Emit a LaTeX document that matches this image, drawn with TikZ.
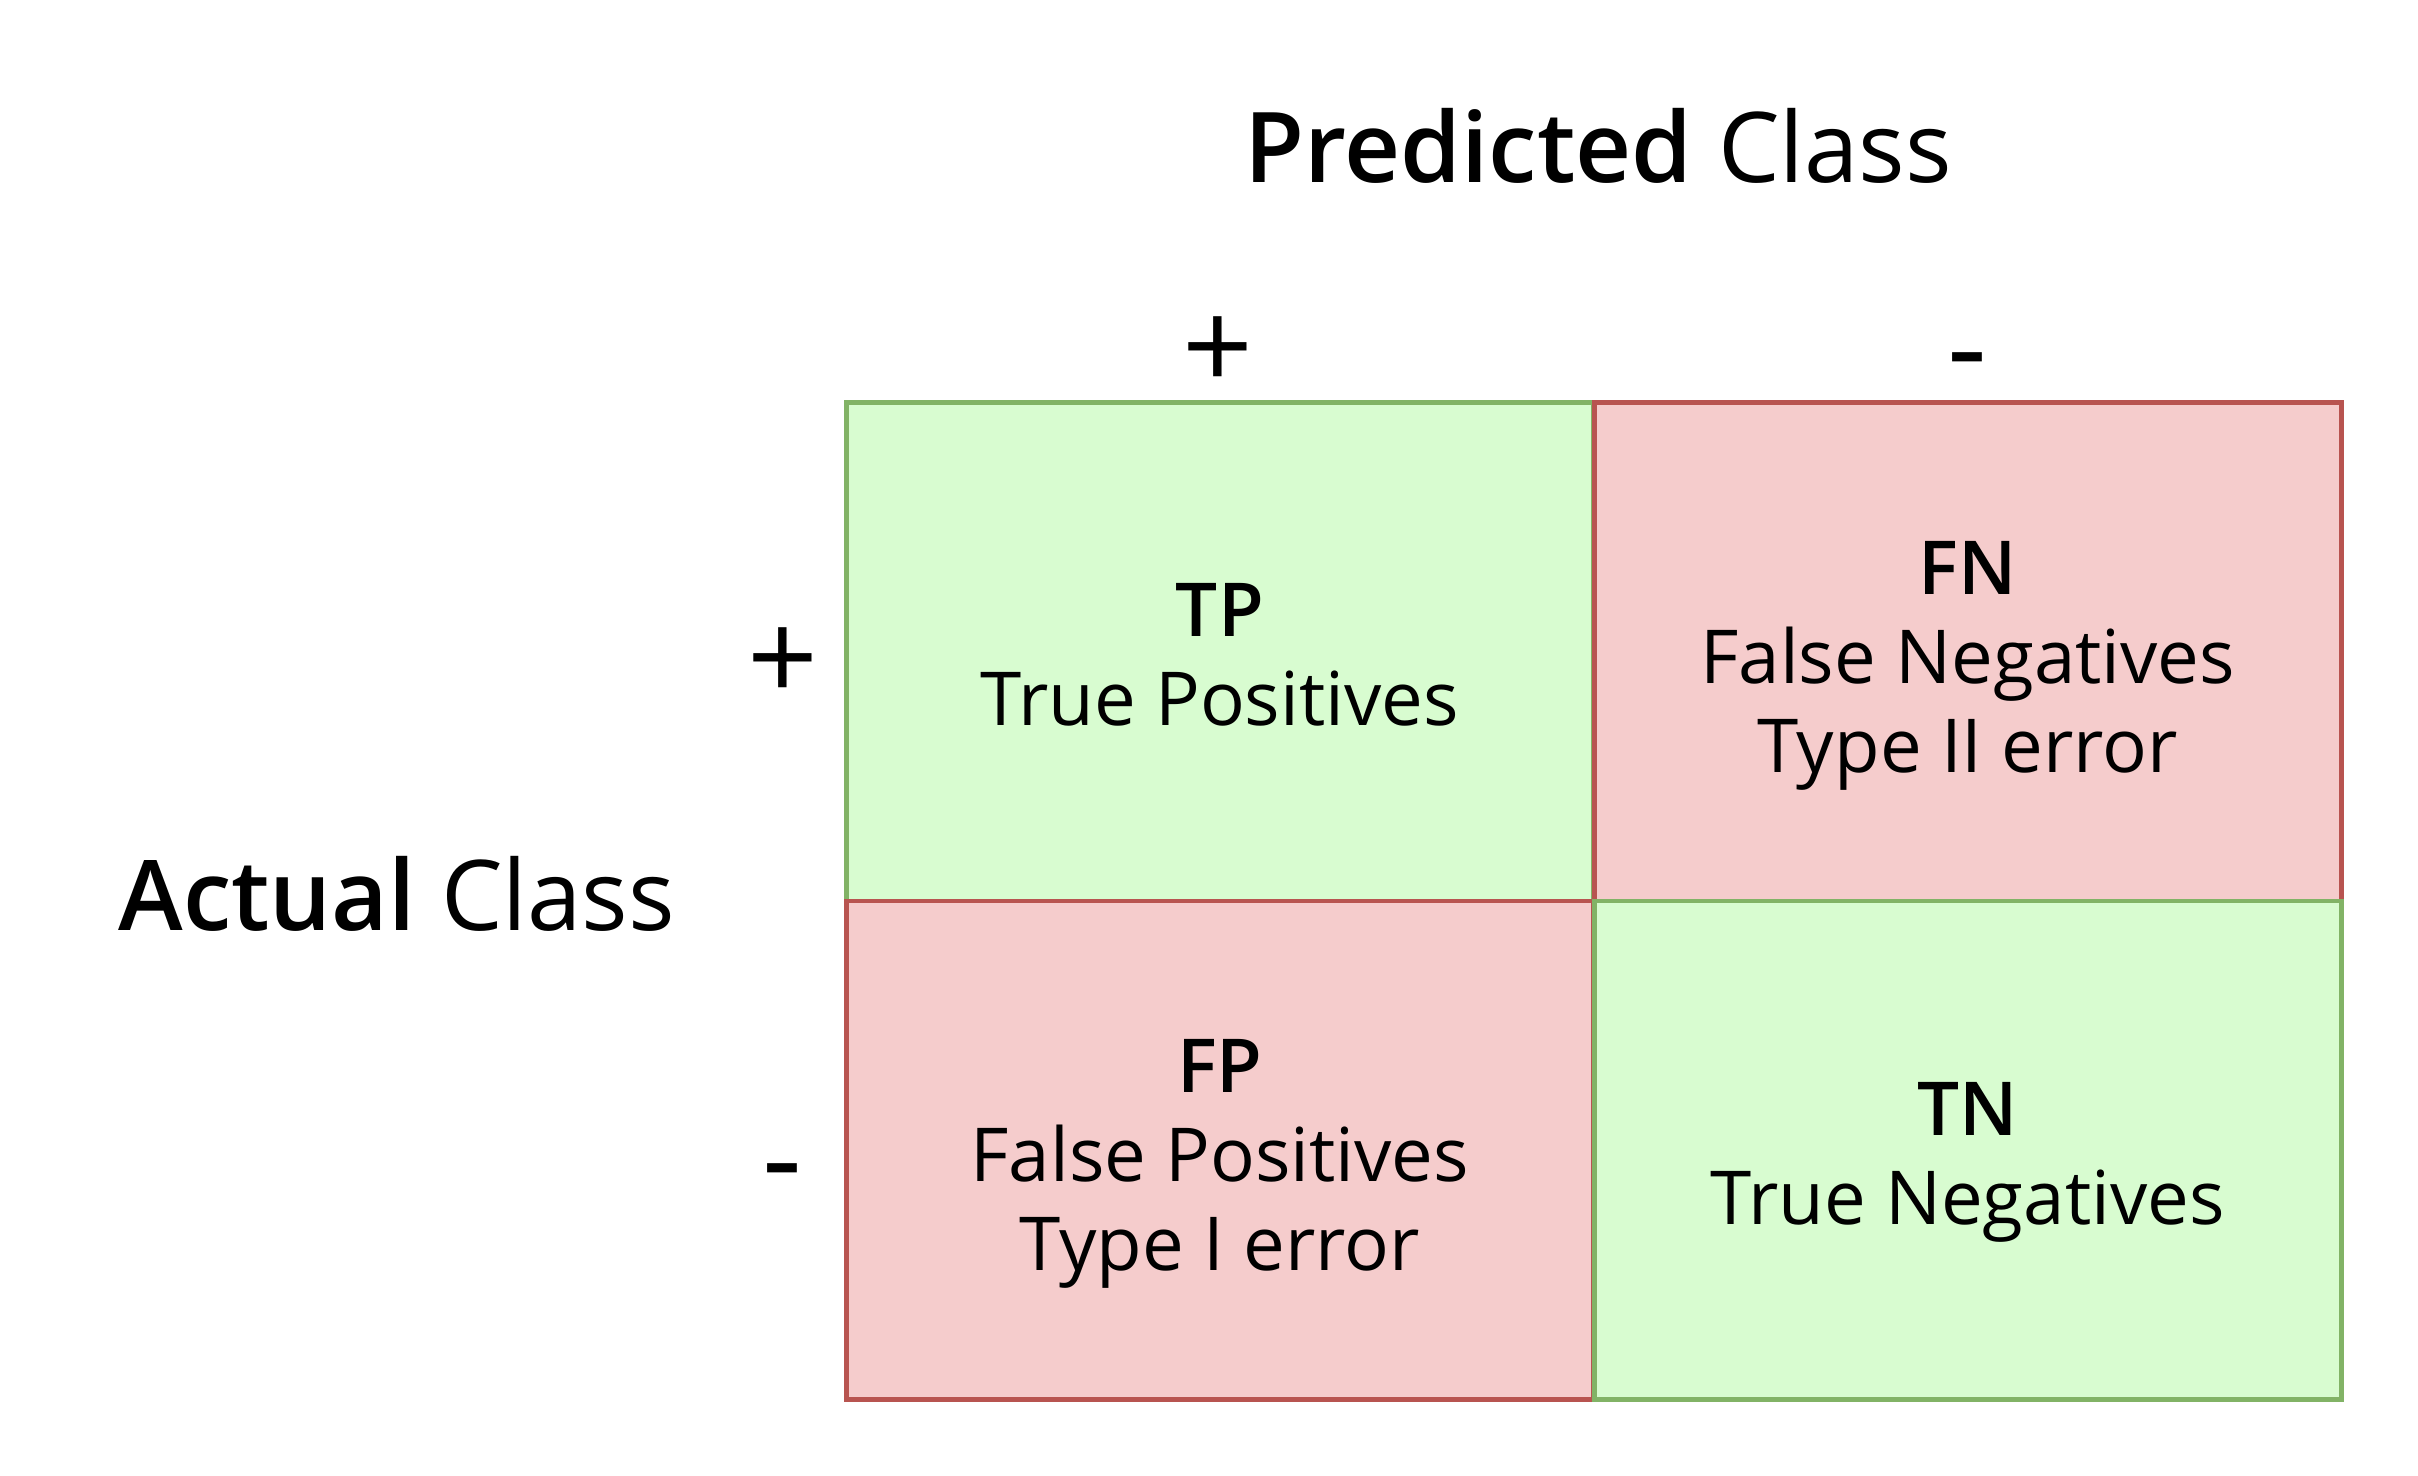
\documentclass[tikz,border=0pt]{standalone}
\usepackage{fontspec}
\IfFontExistsTF{Open Sans Semibold}{%
  \setmainfont{Open Sans}[BoldFont={Open Sans Semibold}]%
}{%
  \IfFontExistsTF{Open Sans SemiBold}{%
    \setmainfont{Open Sans}[BoldFont={Open Sans SemiBold}]%
  }{%
    \setmainfont{Open Sans}[BoldFont={Open Sans}, BoldFeatures={FakeBold=1.6}]%
  }%
}
\definecolor{gfill}{HTML}{D8FCD0}
\definecolor{gline}{HTML}{82B366}
\definecolor{rfill}{HTML}{F5CCCC}
\definecolor{rline}{HTML}{B85450}
\tikzset{
  cell/.style={rectangle, inner sep=0pt, minimum width=241pt, minimum height=160.75pt, line width=1.5pt},
  goodcell/.style={cell, fill=gfill, draw=gline},
  badcell/.style={cell, fill=rfill, draw=rline},
  celltext/.style={inner sep=0pt, align=center, font=\fontsize{24}{28.7}\selectfont},
  sign/.style={inner sep=0pt, font=\fontsize{40}{40}\selectfont},
  title/.style={inner sep=0pt, font=\fontsize{31.5}{36}\selectfont},
}
\begin{document}
\begin{tikzpicture}[x=0.5pt, y=-0.5pt]
\useasboundingbox (0,0) rectangle (1560,952);
\node[goodcell] (tp) at (787,420.5) {};
\node[badcell] (fn) at (1269.5,420.5) {};
\node[badcell] (fp) at (787,742) {};
\node[goodcell] (tn) at (1269.5,742) {};
\node[celltext, yshift=-1pt] (tptext) at (tp.center) {\textbf{TP}\\True Positives};
\node[celltext, yshift=-4.5pt] (fntext) at (fn.center) {\textbf{FN}\\False Negatives\\Type II error};
\node[celltext, yshift=-4.5pt] (fptext) at (fp.center) {\textbf{FP}\\False Positives\\Type I error};
\node[celltext, yshift=-4pt] (tntext) at (tn.center) {\textbf{TN}\\True Negatives};
\node[title, anchor=base] (pred) at (1031,118) {\textbf{Predicted} Class};
\node[title, anchor=base] (act) at (256,600) {\textbf{Actual} Class};
\node[sign] (pp) at (786,228) {+};
\node[sign] (pn) at (1269,240) {-};
\node[sign] (ap) at (505,429) {+};
\node[sign] (an) at (505,763) {-};
\end{tikzpicture}
\end{document}
